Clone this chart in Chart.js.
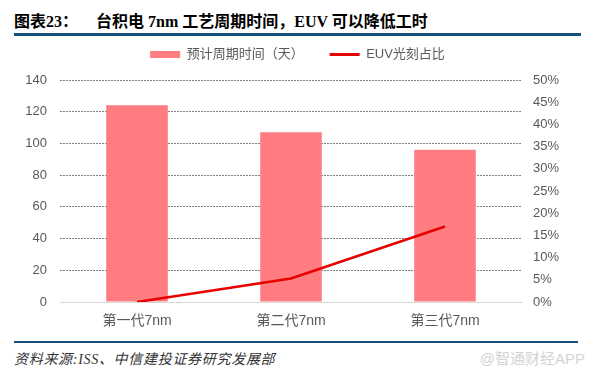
<!DOCTYPE html>
<html>
<head>
<meta charset="utf-8">
<script src="https://cdn.jsdelivr.net/npm/chart.js@4/dist/chart.umd.min.js"></script>
<style>
  html, body { margin: 0; padding: 0; background: #fff; }
  body { width: 595px; height: 376px; position: relative; overflow: hidden; }
  .title {
    position: absolute; left: 14px; top: 8px;
    font: bold 16px "Liberation Serif", "Noto Sans CJK SC", serif;
    color: #000; white-space: nowrap;
  }
  .title .cjk { font-family: "Noto Sans CJK SC", sans-serif; }
  .rule { position: absolute; left: 14px; width: 567px; background: #17507a; }
  .source {
    position: absolute; left: 14px; top: 348px;
    font: italic 14px "Liberation Serif", "Noto Sans CJK SC", serif;
    letter-spacing: 0.7px;
    color: #333; white-space: nowrap;
  }
  .mark {
    position: absolute; right: 10px; top: 347px;
    font: 15px "Liberation Sans", "Noto Sans CJK SC", sans-serif;
    color: #d4d4d4; white-space: nowrap;
  }
  #wrap { position: absolute; left: 0; top: 40px; width: 595px; height: 295px; }
</style>
</head>
<body>
<div class="title"><span class="cjk">图表</span>23<span class="cjk">：</span><span style="display:inline-block;width:18px"></span><span class="cjk">台积电</span> 7nm <span class="cjk">工艺周期时间，</span>EUV <span class="cjk">可以降低工时</span></div>
<div class="rule" style="top:33px;height:3px"></div>
<div id="wrap"><canvas id="chart"></canvas></div>
<div class="rule" style="top:341px;height:2px;width:564px"></div>
<div class="source">资料来源:ISS、中信建投证券研究发展部</div>
<div class="mark">@智通财经APP</div>

<script>
const categories = ['第一代7nm', '第二代7nm', '第三代7nm'];
const cycleDays = [124, 107, 96];
const euvShare = [0, 5.3, 17];

const FONT = '"Liberation Sans", "Noto Sans CJK SC", sans-serif';
const GREY = '#595959';

// legend padding also sets the gap between items, so pull the box up
// and pin its height so the plot top lands where the original is
const LEGEND_PAD = 26;
const legendSpacer = {
  id: 'legendSpacer',
  beforeLayout(chart) {
    const lg = chart.legend;
    if (!lg || lg._spaced) return;
    const fit = lg.fit;
    lg.fit = function () { fit.call(this); this.height = 40 + (LEGEND_PAD - 8); };
    lg._spaced = true;
  }
};

new Chart(document.getElementById('chart'), {
  data: {
    labels: categories,
    datasets: [
      {
        type: 'bar',
        label: '预计周期时间（天）',
        data: cycleDays,
        backgroundColor: '#ff7c80',
        categoryPercentage: 1,
        barPercentage: 0.4,
        yAxisID: 'y',
        order: 1
      },
      {
        type: 'line',
        label: 'EUV光刻占比',
        data: euvShare,
        borderColor: '#e60000',
        backgroundColor: '#e60000',
        borderWidth: 2.5,
        pointRadius: 0,
        tension: 0,
        yAxisID: 'y1',
        order: 0
      }
    ]
  },
  options: {
    responsive: true,
    maintainAspectRatio: false,
    animation: false,
    layout: { padding: { top: -(LEGEND_PAD - 8), left: 0, right: 0, bottom: 0 } },
    plugins: {
      tooltip: { enabled: false },
      legend: {
        position: 'top',
        labels: {
          font: { family: FONT, size: 13 },
          color: GREY,
          padding: LEGEND_PAD,
          boxWidth: 30,
          boxHeight: 7,
          usePointStyle: true,
          pointStyleWidth: 30,
          generateLabels: chart => chart.data.datasets.map((ds, i) => ({
            text: ds.label,
            datasetIndex: i,
            fillStyle: ds.type === 'line' ? ds.borderColor : ds.backgroundColor,
            strokeStyle: ds.type === 'line' ? ds.borderColor : ds.backgroundColor,
            lineWidth: ds.type === 'line' ? 3 : 0,
            pointStyle: ds.type === 'line' ? 'line' : 'rect',
            fontColor: GREY
          }))
        }
      }
    },
    scales: {
      x: {
        grid: { display: false, drawTicks: false },
        border: { display: true, color: '#d9d9d9', width: 1 },
        ticks: { font: { family: FONT, size: 14 }, color: GREY, padding: 11 },
        afterFit: s => { s.height = 33; }
      },
      y: {
        position: 'left',
        min: 0, max: 140,
        ticks: { stepSize: 20, font: { family: FONT, size: 13 }, color: GREY, padding: 13 },
        grid: {
          drawTicks: false,
          color: c => c.tick && c.tick.value === 0 ? 'rgba(0,0,0,0)' : '#7f7f7f',
          lineWidth: 1
        },
        border: { display: false, dash: [2, 1] },
        afterFit: s => { s.width = 60; }
      },
      y1: {
        position: 'right',
        min: 0, max: 50,
        ticks: {
          stepSize: 5,
          font: { family: FONT, size: 13 },
          color: GREY,
          padding: 11,
          callback: v => v + '%'
        },
        grid: { drawOnChartArea: false, drawTicks: false },
        border: { display: false },
        afterFit: s => { s.width = 73; }
      }
    }
  },
  plugins: [legendSpacer]
});
</script>
</body>
</html>
